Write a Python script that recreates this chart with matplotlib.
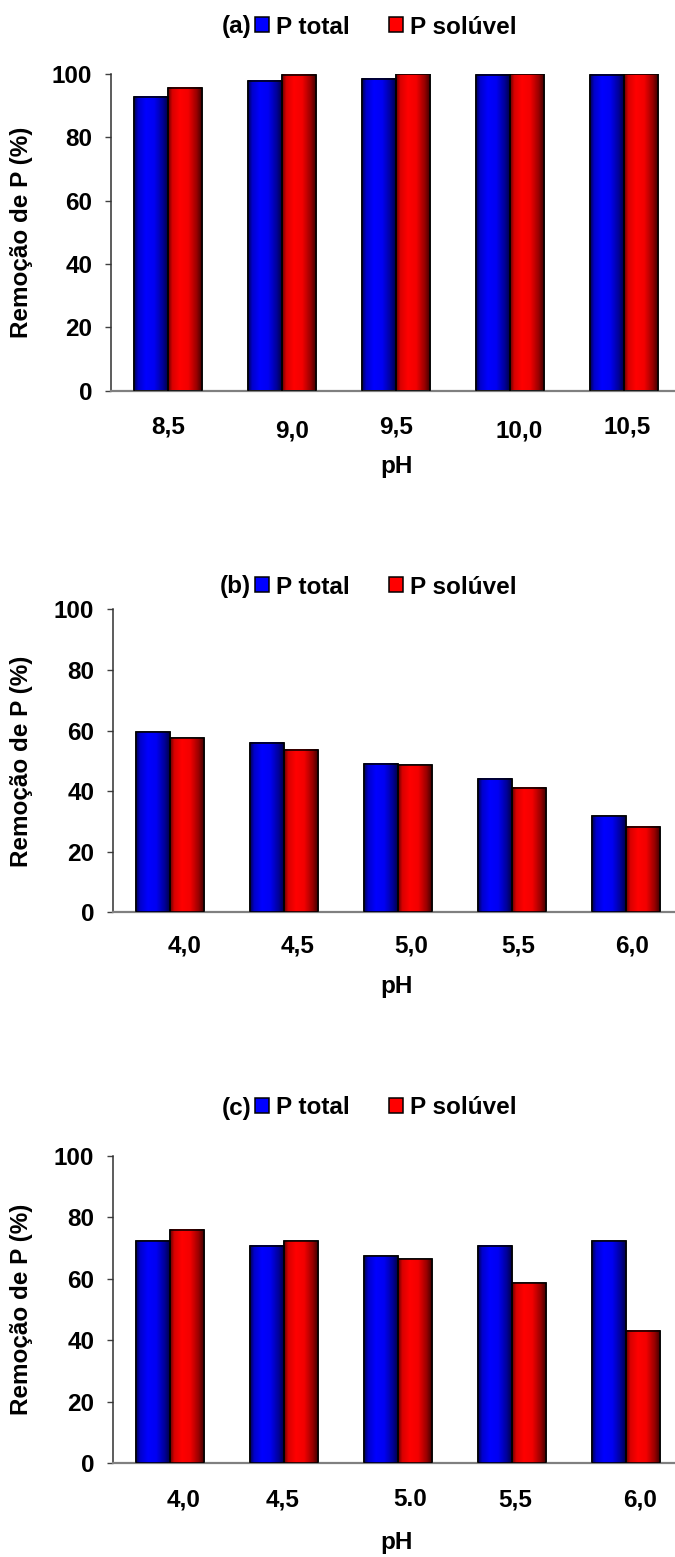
import numpy as np
import matplotlib
matplotlib.use('Agg')
import matplotlib.pyplot as plt
from matplotlib.colors import LinearSegmentedColormap
from matplotlib.transforms import ScaledTranslation

plt.rcParams['font.family'] = ['Liberation Sans', 'DejaVu Sans']
plt.rcParams['font.weight'] = 'bold'

# data
ph_a = ['8,5', '9,0', '9,5', '10,0', '10,5']
total_a = [92.8, 97.7, 98.5, 99.6, 99.6]
soluvel_a = [95.7, 99.6, 99.9, 100.0, 100.0]

ph_b = ['4,0', '4,5', '5,0', '5,5', '6,0']
total_b = [59.4, 56.0, 49.0, 44.0, 31.7]
soluvel_b = [57.4, 53.6, 48.5, 41.0, 28.2]

ph_c = ['4,0', '4,5', '5.0', '5,5', '6,0']
total_c = [72.2, 70.7, 67.4, 70.7, 72.2]
soluvel_c = [76.0, 72.2, 66.4, 58.6, 43.0]

panels = [('(a)', ph_a, total_a, soluvel_a),
          ('(b)', ph_b, total_b, soluvel_b),
          ('(c)', ph_c, total_c, soluvel_c)]

W, H = 675, 1557
fig = plt.figure(figsize=(W / 100, H / 100), dpi=100)

# excel-like shading across each bar
blue_cm = LinearSegmentedColormap.from_list('b', [(0, (0, 0, 0.35)), (0.12, (0, 0, 0.8)), (0.35, (0, 0, 1)),
                                                  (0.6, (0, 0, 0.95)), (0.85, (0, 0, 0.6)), (1, (0, 0, 0.3))])
red_cm = LinearSegmentedColormap.from_list('r', [(0, (0.4, 0, 0)), (0.12, (0.85, 0, 0)), (0.35, (1, 0, 0)),
                                                 (0.6, (0.95, 0, 0)), (0.85, (0.6, 0, 0)), (1, (0.28, 0, 0))])
grad = np.linspace(0, 1, 64)[None, :]

# pixel layout: (axes top, axes bottom, left, legend y, ticklabel pad, pH y)
layout = [(74, 390.5, 111, 27, 18, 467),
          (609.5, 912.3, 113, 587, 16, 987),
          (1156, 1463, 113, 1108, 18, 1543)]
# the tick labels in the original sit a little off centre (px right, px down)
nudges = [[(0, 0), (10, 4), (0, 0), (9, 4), (3, 0)],
          [(15, 0), (14, 0), (13, 0), (6, 0), (6, 0)],
          [(14, 0), (-1, 0), (12, 0), (3, 0), (14, 0)]]

fs = 17.5
w = 0.294
for (tag, labels, total, sol), (top, bot, left, ly, tpad, py), nd in zip(panels, layout, nudges):
    ax = fig.add_axes([left / W, 1 - bot / H, 570 / W, (bot - top) / H])
    x = np.arange(len(labels))
    b1 = ax.bar(x - w / 2, total, w, color='#0000ff', edgecolor='black', linewidth=1.1, zorder=2, label='P total')
    b2 = ax.bar(x + w / 2, sol, w, color='#ff0000', edgecolor='black', linewidth=1.1, zorder=2, label='P solúvel')
    for bars, cm in ((b1, blue_cm), (b2, red_cm)):
        for p in bars:
            x0, y0 = p.get_x(), p.get_y()
            ax.imshow(grad, cmap=cm, aspect='auto', zorder=3, interpolation='bilinear',
                      extent=(x0, x0 + p.get_width(), y0, y0 + p.get_height()))
    ax.bar(x - w / 2, total, w, fill=False, edgecolor='black', linewidth=1.1, zorder=4)
    ax.bar(x + w / 2, sol, w, fill=False, edgecolor='black', linewidth=1.1, zorder=4)

    ax.set_xlim(-0.5, 4.5)
    ax.set_ylim(0, 100)
    ax.set_yticks(range(0, 101, 20))
    ax.set_xticks(x)
    ax.set_xticklabels(labels)
    ax.tick_params(axis='x', length=0, pad=tpad, labelsize=fs)
    ax.tick_params(axis='y', length=4.5, width=1, color='#404040', pad=9, labelsize=fs)
    for lab, (dx, dy) in zip(ax.get_xticklabels(), nd):
        lab.set_transform(lab.get_transform() + ScaledTranslation(dx / 100, -dy / 100, fig.dpi_scale_trans))
    for s in ('top', 'right'):
        ax.spines[s].set_visible(False)
    ax.spines['left'].set_color('#303030')
    ax.spines['left'].set_linewidth(1.1)
    ax.spines['bottom'].set_color('#808080')
    ax.spines['bottom'].set_linewidth(1.6)

    fig.text(22 / W, 1 - (top + bot) / 2 / H, 'Remoção de P (%)', rotation=90,
             ha='center', va='center', fontsize=fs)
    fig.text(397 / W, 1 - py / H, 'pH', ha='center', va='center', fontsize=fs)
    fig.text(251 / W, 1 - ly / H, tag, ha='right', va='center', fontsize=fs)
    fig.legend(handles=[b1, b2], loc='center left', bbox_to_anchor=(255 / W, 1 - ly / H),
               ncol=2, frameon=False, fontsize=fs, handlelength=0.58, handleheight=0.58,
               handletextpad=0.3, columnspacing=1.6, borderpad=0, borderaxespad=0)

fig.savefig('out.png', dpi=100)
